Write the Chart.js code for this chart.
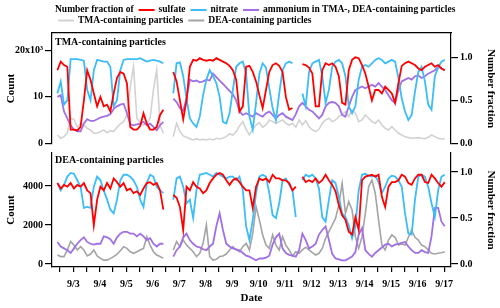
<!DOCTYPE html>
<html>
<head>
<meta charset="utf-8">
<script src="https://cdn.jsdelivr.net/npm/chart.js@4.4.1/dist/chart.umd.min.js"></script>
<style>
  body { margin: 0; background: #fff; }
  #wrap { position: relative; width: 500px; height: 308px; }
  #topChart { position: absolute; left: 0; top: 0; }
  #botChart { position: absolute; left: 0; top: 150px; }
</style>
</head>
<body>
<div id="wrap">
  <canvas id="topChart" width="500" height="150"></canvas>
  <canvas id="botChart" width="500" height="158"></canvas>
</div>
<script>
// time axis: days of September, one sample every 3 hours
const startDay = 2.4;
const stepDay = 0.125;
const dateLabels = ['9/3', '9/4', '9/5', '9/6', '9/7', '9/8', '9/9', '9/10', '9/11', '9/12', '9/13', '9/14', '9/15', '9/16', '9/17'];

const tmaCountTicks = [0, 10000, 20000];
const tmaCountLabels = ['0', '10', '20x10\u00b3'];
const deaCountTicks = [0, 2000, 4000];
const deaCountLabels = ['0', '2000', '4000'];
const fracTicks = [0, 0.5, 1];
const fracLabels = ['0.0', '0.5', '1.0'];

// TMA-containing particles (top panel)
const tmaSulfate = [
  0.85, 0.95, 0.91, 0.89, 0.16, 0.16, 0.15, 0.19, 0.50, 0.85,
  0.74, 0.58, 0.43, 0.54, 0.43, 0.45, 0.37, 0.58, 0.76, 0.83,
  0.81, 0.70, 0.19, 0.16, 0.16, 0.20, 0.35, 0.23, 0.16, 0.16,
  0.19, 0.33, 0.39, null, null, 0.83, 0.72, 0.50, 0.28, 0.50,
  0.89, 0.97, 0.96, 0.99, 0.97, 0.96, 0.97, 0.96, 0.99, 0.97,
  0.95, 0.93, 0.90, 0.85, 0.74, 0.37, 0.43, 0.89, 0.90, 0.83,
  0.72, 0.56, 0.41, 0.62, 0.83, 0.91, 0.93, 0.90, 0.83, 0.54,
  0.39, 0.41, null, null, 0.92, 0.91, 0.88, 0.81, 0.43, 0.43,
  0.85, 0.93, 0.91, 0.93, 0.89, 0.78, 0.47, 0.45, 0.85, 0.97,
  1.00, 0.99, 0.91, 0.81, 0.66, 0.50, 0.62, 0.62, 0.58, 0.66,
  0.62, 0.58, 0.47, 0.70, 0.90, 0.93, 0.95, 0.93, 0.91, 0.87,
  0.85, 0.89, 0.91, 0.93, 0.89, 0.91, 0.87, 0.85
];
const tmaNitrate = [
  0.58, 0.72, 0.45, 0.50, 0.98, 0.98, 0.98, 0.97, 0.96, 0.62,
  0.50, 0.85, 0.97, 0.96, 0.95, 0.95, 0.89, 0.43, 0.50, 0.85,
  0.97, 0.98, 0.98, 0.98, 0.98, 0.99, 0.97, 0.95, 0.96, 0.97,
  0.96, 0.95, 0.93, null, null, 0.58, 0.93, 0.94, 0.78, 0.52,
  0.29, 0.23, 0.19, 0.31, 0.56, 0.74, 0.85, 0.78, 0.70, 0.54,
  0.25, 0.23, 0.35, 0.62, 0.89, 0.93, 0.95, 0.81, 0.31, 0.16,
  0.47, 0.81, 0.93, 0.88, 0.64, 0.41, 0.27, 0.58, 0.85, 0.93,
  0.95, 0.93, null, null, 0.58, 0.43, 0.83, 0.93, 0.95, 0.97,
  0.78, 0.47, 0.62, 0.89, 0.95, 0.97, 0.93, 0.78, 0.43, 0.35,
  0.43, 0.74, 0.89, 0.91, 0.89, 0.93, 0.97, 0.99, 0.97, 0.93,
  0.95, 0.97, 0.95, 0.76, 0.52, 0.37, 0.27, 0.33, 0.60, 0.83,
  0.89, 0.72, 0.45, 0.39, 0.78, 0.88, 0.95, 0.97
];
const tmaAmmonium = [
  0.54, 0.56, 0.37, 0.29, 0.21, 0.16, 0.14, 0.14, 0.23, 0.28,
  0.26, 0.26, 0.28, 0.30, 0.31, 0.32, 0.34, 0.40, 0.43, 0.45,
  0.46, 0.35, 0.22, 0.21, 0.22, 0.23, 0.25, 0.21, 0.23, 0.19,
  0.15, 0.21, 0.25, null, null, 0.52, 0.48, 0.41, 0.38, 0.52,
  0.74, 0.72, 0.73, 0.71, 0.72, 0.74, 0.73, 0.81, 0.77, 0.73,
  0.69, 0.65, 0.61, 0.57, 0.50, 0.37, 0.33, 0.35, 0.33, 0.31,
  0.35, 0.33, 0.31, 0.35, 0.37, 0.33, 0.29, 0.33, 0.35, 0.31,
  0.29, 0.27, 0.34, 0.43, 0.47, 0.43, 0.39, 0.37, 0.33, 0.29,
  0.33, 0.43, 0.47, 0.48, 0.47, 0.43, 0.33, 0.31, 0.43, 0.54,
  0.62, 0.64, 0.66, 0.64, 0.66, 0.68, 0.66, 0.70, 0.66, 0.62,
  0.56, 0.50, 0.47, 0.62, 0.72, 0.74, 0.76, 0.74, 0.78, 0.79,
  0.76, 0.78, 0.81, 0.83, 0.85, 0.89, 0.87, 0.85
];
const tmaCount = [
  1790, 1080, 1430, 2290, 5380, 5160, 3440, 4300, 3940, 3230,
  2870, 2150, 2150, 2510, 2870, 2290, 2720, 2510, 3440, 4160,
  4660, 6100, 12190, 16490, 5380, 4300, 3940, 4300, 5380, 11470,
  15770, 3940, 2150, null, null, 1430, 4300, 2510, 1580, 1290,
  1000, 720, 1000, 720, 860, 720, 930, 720, 1080, 930,
  1150, 1430, 2010, 1790, 2510, 3730, 4660, 3010, 1790, 3010,
  3940, 4450, 3440, 3940, 5020, 4660, 4300, 4660, 5020, 4300,
  3940, 4300, 3440, 5020, 3940, 4880, 3590, 2870, 2510, 3010,
  4300, 5020, 5380, 4660, 5020, 5740, 6100, 6810, 5740, 7170,
  6450, 4660, 5020, 6100, 5380, 4660, 4300, 5020, 3940, 3230,
  2870, 3590, 2870, 2150, 1790, 1430, 1220, 1080, 1150, 1220,
  1080, 1000, 1290, 1790, 1430, 1080, 930, 1000
];

// DEA-containing particles (bottom panel)
const deaSulfate = [
  0.88, 0.82, 0.86, 0.84, 0.88, 0.82, 0.86, 0.84, 0.88, 0.80,
  0.77, 0.42, 0.70, 0.84, 0.80, 0.88, 0.82, 0.93, 0.89, 0.84,
  0.88, 0.80, 0.82, 0.77, 0.79, 0.75, 0.82, 0.88, 0.89, 0.86,
  0.88, 0.80, 0.59, null, null, 0.75, 0.72, 0.62, 0.37, 0.84,
  0.80, 0.89, 0.84, 0.82, 0.77, 0.80, 0.88, 0.93, 0.97, 0.99,
  0.97, 0.91, 0.86, 0.91, 0.93, 0.89, 0.84, 0.80, 0.80, 0.61,
  0.84, 0.93, 0.91, 0.93, 0.89, 0.97, 0.93, 0.93, 0.91, 0.91,
  0.88, 0.80, 0.84, null, 0.95, 0.89, 0.91, 0.89, 0.93, 0.88,
  0.91, 0.97, 0.91, 0.86, 0.79, 0.64, 0.53, 0.48, 0.35, 0.32,
  0.51, 0.37, 0.91, 0.95, 0.96, 0.97, 0.95, 0.97, 0.73, 0.62,
  0.84, 0.89, 0.89, 0.91, 0.97, 0.95, 0.88, 0.86, 0.93, 0.97,
  0.97, 0.89, 0.88, 0.97, 0.93, 0.88, 0.84, 0.89
];
const deaNitrate = [
  0.88, 0.80, 0.86, 0.95, 0.99, 0.98, 0.91, 0.84, 0.61, 0.62,
  0.61, 0.84, 0.95, 0.91, 0.80, 0.70, 0.59, 0.55, 0.70, 0.91,
  0.97, 0.97, 0.95, 0.91, 0.84, 0.70, 0.62, 0.88, 0.97, 0.95,
  0.84, 0.80, 0.77, null, null, 0.70, 0.93, 0.95, 0.84, 0.66,
  0.70, 0.50, 0.80, 0.97, 0.98, 0.99, 0.97, 0.95, 0.99, 0.97,
  0.95, 0.93, 0.95, 0.95, 0.91, 0.95, 0.80, 0.41, 0.26, 0.48,
  0.77, 0.95, 0.97, 0.95, 0.77, 0.53, 0.50, 0.66, 0.91, 0.93,
  0.86, 0.80, 0.51, null, 0.91, 0.97, 0.95, 0.97, 0.93, 0.82,
  0.51, 0.46, 0.70, 0.91, 0.88, 0.73, 0.55, 0.51, 0.42, 0.28,
  0.41, 0.80, 0.97, 0.98, 0.96, 0.95, 0.96, 0.89, 0.77, 0.84,
  0.93, 0.96, 0.95, 0.91, 0.84, 0.55, 0.33, 0.32, 0.70, 0.95,
  0.97, 0.95, 0.84, 0.66, 0.51, 0.80, 0.95, 0.97
];
const deaAmmonium = [
  0.24, 0.19, 0.17, 0.15, 0.12, 0.17, 0.22, 0.26, 0.29, 0.24,
  0.22, 0.21, 0.22, 0.22, 0.30, 0.29, 0.27, 0.22, 0.29, 0.33,
  0.35, 0.35, 0.33, 0.33, 0.30, 0.33, 0.30, 0.26, 0.28, 0.22,
  0.19, 0.22, 0.22, null, null, 0.08, 0.15, 0.19, 0.29, 0.33,
  0.26, 0.22, 0.19, 0.18, 0.16, 0.15, 0.19, 0.22, 0.41, 0.55,
  0.37, 0.22, 0.19, 0.17, 0.16, 0.15, 0.12, 0.09, 0.08, 0.06,
  0.04, 0.06, 0.06, 0.07, 0.09, 0.21, 0.29, 0.33, 0.17, 0.12,
  0.10, 0.09, 0.08, 0.15, 0.33, 0.26, 0.17, 0.19, 0.22, 0.32,
  0.37, 0.41, 0.26, 0.11, 0.06, 0.05, 0.04, 0.04, 0.06, 0.08,
  0.13, 0.32, 0.39, 0.15, 0.11, 0.08, 0.12, 0.15, 0.18, 0.21,
  0.22, 0.19, 0.21, 0.22, 0.23, 0.24, 0.19, 0.15, 0.12, 0.12,
  0.15, 0.13, 0.12, 0.30, 0.61, 0.61, 0.46, 0.41
];
const deaCount = [
  460, 380, 380, 720, 1150, 970, 720, 890, 720, 410,
  510, 720, 410, 290, 200, 200, 290, 380, 510, 680,
  890, 800, 630, 550, 630, 720, 800, 1400, 970, 630,
  460, 380, 290, null, null, 720, 1150, 890, 1230, 970,
  800, 630, 380, 550, 1060, 2000, 380, 200, 240, 380,
  410, 510, 720, 890, 720, 630, 890, 1060, 720, 1570,
  2940, 2260, 1490, 970, 800, 1490, 970, 720, 1400, 970,
  720, 410, 630, 550, 720, 860, 720, 580, 460, 550,
  800, 1320, 1660, 2000, 2340, 3030, 4140, 2600, 3200, 2770,
  1400, 800, 1400, 2600, 3970, 4310, 3630, 2260, 970, 720,
  1230, 1490, 1370, 970, 1030, 970, 1370, 1740, 1370, 1230,
  970, 890, 720, 550, 510, 550, 580, 630
];

const FONT = "'Liberation Serif', 'Times New Roman', serif";
const RED = '#ff0000';
const BLUE = '#3cbcf8';
const PURPLE = '#a070e4';
const LIGHTGRAY = '#d2d2d2';
const GRAY = '#a4a4a4';
const X_MIN = 2.196;
const X_MAX = 17.26;

Chart.defaults.font.family = FONT;
Chart.defaults.font.weight = 'bold';
Chart.defaults.color = '#000';

function toPoints(arr) {
  return arr.map((v, i) => ({ x: startDay + i * stepDay, y: v }));
}

function lineSet(label, arr, color, axis, width) {
  return {
    label: label,
    data: toPoints(arr),
    borderColor: color,
    backgroundColor: color,
    borderWidth: width,
    pointRadius: 0,
    tension: 0,
    spanGaps: false,
    yAxisID: axis
  };
}

// keep the plot boxes of both panels lined up
function fixWidth(w) {
  return function (scale) {
    scale.width = w;
    scale.paddingTop = 0;
    scale.paddingBottom = 0;
  };
}

function yAxis(position, min, max, ticks, labels, titleText, titlePad) {
  return {
    type: 'linear',
    position: position,
    min: min,
    max: max,
    afterBuildTicks: s => { s.ticks = ticks.map(v => ({ value: v })); },
    afterFit: fixWidth(position === 'left' ? 52 : 49),
    ticks: {
      font: { size: 10, weight: 'bold' },
      padding: 2,
      callback: v => labels[ticks.indexOf(v)]
    },
    grid: { drawOnChartArea: false, drawTicks: true, tickLength: 7, color: '#000', lineWidth: 1.2 },
    border: { display: true, color: '#000', width: 1.2 },
    title: { display: true, text: titleText, font: { size: 11, weight: 'bold' }, padding: { top: titlePad, bottom: 0 } }
  };
}

// panel caption in the upper left corner of the plot box
const panelLabel = {
  id: 'panelLabel',
  afterDraw(chart, args, opts) {
    const ctx = chart.ctx;
    ctx.save();
    ctx.font = 'bold 10px ' + FONT;
    ctx.fillStyle = '#000';
    ctx.textBaseline = 'middle';
    ctx.fillText(opts.text, chart.chartArea.left + 3, chart.chartArea.top + opts.dy);
    ctx.restore();
  }
};

// two-row legend above the top panel
const rowLegend = {
  id: 'rowLegend',
  afterDraw(chart, args, opts) {
    const ctx = chart.ctx;
    ctx.save();
    ctx.font = 'bold 9.5px ' + FONT;
    ctx.textBaseline = 'middle';
    opts.rows.forEach(row => {
      let x = row.x;
      if (row.lead) {
        ctx.fillStyle = '#000';
        ctx.fillText(row.lead, x, row.y);
        x += ctx.measureText(row.lead).width + 5;
      }
      row.items.forEach(item => {
        ctx.strokeStyle = item.color;
        ctx.lineWidth = 2;
        ctx.beginPath();
        ctx.moveTo(x, row.y);
        ctx.lineTo(x + 16, row.y);
        ctx.stroke();
        x += 20;
        ctx.fillStyle = '#000';
        ctx.fillText(item.text, x, row.y);
        x += ctx.measureText(item.text).width + 5;
      });
    });
    ctx.restore();
  }
};

new Chart(document.getElementById('topChart'), {
  type: 'line',
  data: {
    datasets: [
      lineSet('sulfate', tmaSulfate, RED, 'yf', 1.8),
      lineSet('nitrate', tmaNitrate, BLUE, 'yf', 1.8),
      lineSet('ammonium', tmaAmmonium, PURPLE, 'yf', 1.8),
      lineSet('TMA-containing particles', tmaCount, LIGHTGRAY, 'yc', 1.6)
    ]
  },
  options: {
    responsive: false,
    animation: false,
    layout: { padding: { top: 0, bottom: 6, left: 0, right: 0 } },
    scales: {
      x: { type: 'linear', min: X_MIN, max: X_MAX, display: false },
      xTop: {
        type: 'linear', position: 'top', min: X_MIN, max: X_MAX,
        afterFit: s => { s.height = 33; s.paddingLeft = 0; s.paddingRight = 0; },
        ticks: { display: false },
        grid: { display: false },
        border: { display: true, color: '#000', width: 1.2 }
      },
      yc: yAxis('left', -150, 23720, tmaCountTicks, tmaCountLabels, 'Count', 5),
      yf: yAxis('right', -0.008, 1.2826, fracTicks, fracLabels, 'Number fraction', 2.5)
    },
    plugins: {
      legend: { display: false },
      tooltip: { enabled: false },
      panelLabel: { text: 'TMA-containing particles', dy: 9 },
      rowLegend: {
        rows: [
          { x: 55, y: 10, lead: 'Number fraction of', items: [
            { text: 'sulfate', color: RED },
            { text: 'nitrate', color: BLUE },
            { text: 'ammonium in TMA-, DEA-containing particles', color: PURPLE }
          ] },
          { x: 58, y: 20.5, items: [
            { text: 'TMA-containing particles', color: LIGHTGRAY },
            { text: 'DEA-containing particles', color: GRAY }
          ] }
        ]
      }
    }
  },
  plugins: [panelLabel, rowLegend]
});

// half-day tick marks, labels on whole days
const dayTicks = [];
dateLabels.forEach((lab, k) => { dayTicks.push(2.5 + k, 3 + k); });

new Chart(document.getElementById('botChart'), {
  type: 'line',
  data: {
    datasets: [
      lineSet('sulfate', deaSulfate, RED, 'yf', 1.8),
      lineSet('nitrate', deaNitrate, BLUE, 'yf', 1.8),
      lineSet('ammonium', deaAmmonium, PURPLE, 'yf', 1.8),
      lineSet('DEA-containing particles', deaCount, GRAY, 'yc', 1.6)
    ]
  },
  options: {
    responsive: false,
    animation: false,
    layout: { padding: { top: 3, bottom: 0, left: 0, right: 0 } },
    scales: {
      x: {
        type: 'linear', position: 'bottom', min: X_MIN, max: X_MAX,
        afterBuildTicks: s => { s.ticks = dayTicks.map(v => ({ value: v })); },
        afterFit: s => { s.height = 41; s.paddingLeft = 0; s.paddingRight = 0; },
        ticks: {
          autoSkip: false, maxRotation: 0, padding: 6,
          font: { size: 10, weight: 'bold' },
          callback: v => Number.isInteger(v) ? dateLabels[v - 3] : ''
        },
        grid: { drawOnChartArea: false, drawTicks: true, tickLength: 5, color: '#000', lineWidth: 1.2 },
        border: { display: true, color: '#000', width: 1.2 },
        title: { display: true, text: 'Date', font: { size: 11, weight: 'bold' }, padding: { top: 0, bottom: 3 } }
      },
      yc: yAxis('left', -154, 5692, deaCountTicks, deaCountLabels, 'Count', 5),
      yf: yAxis('right', -0.0326, 1.2065, fracTicks, fracLabels, 'Number fraction', 2.5)
    },
    plugins: {
      legend: { display: false },
      tooltip: { enabled: false },
      panelLabel: { text: 'DEA-containing particles', dy: 7 }
    }
  },
  plugins: [panelLabel]
});
</script>
</body>
</html>
